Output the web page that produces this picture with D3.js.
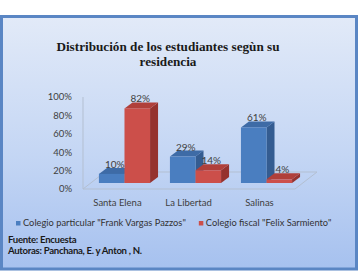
<!DOCTYPE html>
<html>
<head>
<meta charset="utf-8">
<script src="https://cdn.jsdelivr.net/npm/d3@7"></script>
<style>
  body { margin: 0; background: #fff; }
  svg { display: block; }
</style>
</head>
<body>
<script>
// Datos
const categories = ["Santa Elena", "La Libertad", "Salinas"];
const seriesNames = ["Colegio particular \"Frank Vargas Pazzos\"", "Colegio fiscal \"Felix Sarmiento\""];
const particular = [10, 29, 61];
const fiscal = [82, 14, 4];
const yTicks = [0, 20, 40, 60, 80, 100];
const titleLines = ["Distribución  de los estudiantes segùn su", "residencia"];
const notes = ["Fuente: Encuesta", "Autoras: Panchana, E. y Anton , N."];

const W = 361, H = 271;
const svg = d3.select("body").append("svg")
    .attr("width", W)
    .attr("height", H);

// Fondo degradado
const defs = svg.append("defs");
const grad = defs.append("linearGradient")
    .attr("id", "bg")
    .attr("x1", 0).attr("y1", 0).attr("x2", 0).attr("y2", 1);
grad.append("stop").attr("offset", "0%").attr("stop-color", "#e2eaf8");
grad.append("stop").attr("offset", "55%").attr("stop-color", "#c4d6f4");
grad.append("stop").attr("offset", "100%").attr("stop-color", "#a6c1ef");

svg.append("rect")
    .attr("x", 1.5).attr("y", 16.5)
    .attr("width", 355).attr("height", 252.5)
    .attr("fill", "url(#bg)")
    .attr("stroke", "#5a86c4")
    .attr("stroke-width", 3);

// Titulo
svg.append("g").selectAll("text")
    .data(titleLines)
    .join("text")
    .attr("x", 168)
    .attr("y", (d, i) => 51 + i * 14.5)
    .attr("text-anchor", "middle")
    .attr("font-family", "'Liberation Serif', serif")
    .attr("font-weight", "bold")
    .attr("font-size", "13.2px")
    .attr("fill", "#1a1a1a")
    .text(d => d);

// Escalas
const x = d3.scaleBand()
    .domain(categories)
    .range([85, 306])
    .paddingInner(0.28)
    .paddingOuter(0.196);

const xs = d3.scaleBand()
    .domain(seriesNames)
    .range([0, x.bandwidth()]);

const yBar = d3.scaleLinear().domain([0, 100]).range([183, 92]);
const yAxis = d3.scaleLinear().domain([0, 100]).range([189, 97]);

// Piso y eje
const depth = { dx: 22, dy: -17 };
const floorL = 83, floorR = 295, floorY = yAxis(0);
svg.append("path")
    .attr("d", `M${floorL},${floorY}L${floorR},${floorY}L${floorR + depth.dx},${floorY + depth.dy}L${floorL + depth.dx},${floorY + depth.dy}Z`)
    .attr("fill", "none")
    .attr("stroke", "#b3bfd1")
    .attr("stroke-width", 1);

svg.append("line")
    .attr("x1", floorL).attr("x2", floorL)
    .attr("y1", yAxis(100)).attr("y2", yAxis(0))
    .attr("stroke", "#b3bfd1")
    .attr("stroke-width", 1);

svg.append("g").selectAll("text")
    .data(yTicks)
    .join("text")
    .attr("x", 72)
    .attr("y", d => yAxis(d))
    .attr("dy", "0.35em")
    .attr("text-anchor", "end")
    .attr("font-family", "Lato, sans-serif")
    .attr("font-size", "9.5px")
    .attr("fill", "#404040")
    .text(d => d + "%");

// Barras 3D
const colors = [
    { front: "#4a7ec0", top: "#3e6ba6", side: "#345c91" },
    { front: "#cc4f4a", top: "#b03f3a", side: "#95322e" }
];
const bd = { dx: 8, dy: -6 };

const bars = [];
categories.forEach((c, i) => {
    [particular[i], fiscal[i]].forEach((v, s) => {
        bars.push({ cat: c, series: seriesNames[s], s: s, value: v });
    });
});

const barG = svg.append("g").selectAll("g")
    .data(bars)
    .join("g");

barG.each(function(d) {
    const g = d3.select(this);
    const x0 = x(d.cat) + xs(d.series);
    const w = xs.bandwidth();
    const y0 = yBar(0), y1 = yBar(d.value);
    const col = colors[d.s];
    g.append("path")
        .attr("d", `M${x0 + w},${y1}L${x0 + w + bd.dx},${y1 + bd.dy}L${x0 + w + bd.dx},${y0 + bd.dy}L${x0 + w},${y0}Z`)
        .attr("fill", col.side);
    g.append("path")
        .attr("d", `M${x0},${y1}L${x0 + bd.dx},${y1 + bd.dy}L${x0 + w + bd.dx},${y1 + bd.dy}L${x0 + w},${y1}Z`)
        .attr("fill", col.top);
    g.append("rect")
        .attr("x", x0).attr("y", y1)
        .attr("width", w).attr("height", y0 - y1)
        .attr("fill", col.front);
});

// Etiquetas de datos
svg.append("g").selectAll("text")
    .data(bars)
    .join("text")
    .attr("x", d => x(d.cat) + xs(d.series) + xs.bandwidth() / 2 + 3)
    .attr("y", d => yBar(d.value) - 6)
    .attr("text-anchor", "middle")
    .attr("font-family", "Lato, sans-serif")
    .attr("font-size", "10px")
    .attr("fill", "#404040")
    .text(d => d.value + "%");

// Categorias
svg.append("g").selectAll("text")
    .data(categories)
    .join("text")
    .attr("x", d => x(d) + x.bandwidth() / 2 - 7)
    .attr("y", 206)
    .attr("text-anchor", "middle")
    .attr("font-family", "Lato, sans-serif")
    .attr("font-size", "9.5px")
    .attr("fill", "#404040")
    .text(d => d);

// Leyenda
const legend = svg.append("g");
let lx = 16;
seriesNames.forEach((name, i) => {
    legend.append("rect")
        .attr("x", lx).attr("y", 221)
        .attr("width", 4.5).attr("height", 4.5)
        .attr("fill", colors[i].front);
    const t = legend.append("text")
        .attr("x", lx + 7)
        .attr("y", 226)
        .attr("font-family", "Lato, sans-serif")
        .attr("font-size", "9.3px")
        .attr("fill", "#333")
        .text(name);
    lx += 7 + t.node().getComputedTextLength() + 13;
});

// Notas
svg.append("g").selectAll("text")
    .data(notes)
    .join("text")
    .attr("x", 8)
    .attr("y", (d, i) => 243 + i * 11)
    .attr("font-family", "Lato, sans-serif")
    .attr("font-weight", "bold")
    .attr("font-size", "9.6px")
    .attr("letter-spacing", "-0.3px")
    .attr("fill", "#1a1a1a")
    .text(d => d);
</script>
</body>
</html>
